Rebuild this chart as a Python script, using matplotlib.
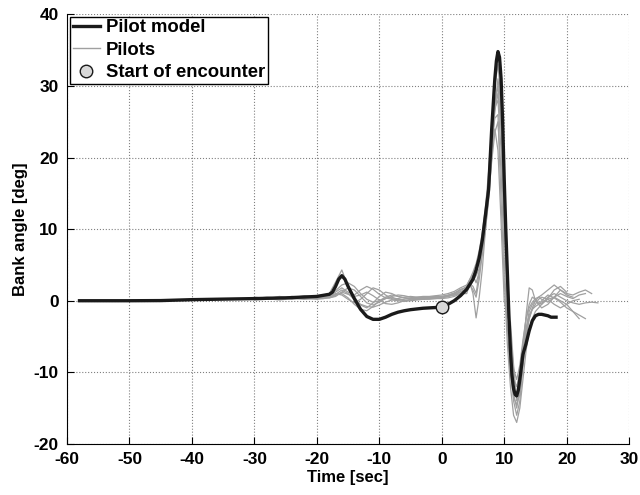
import numpy as np
import matplotlib
matplotlib.use("Agg")
import matplotlib.pyplot as plt
from matplotlib.lines import Line2D

plt.rcParams['font.family'] = ['Liberation Sans', 'DejaVu Sans']
plt.rcParams['font.weight'] = 'bold'
plt.rcParams['axes.unicode_minus'] = False

# ---------------- data ----------------
t_model = [-58, -50, -45, -40, -30, -25, -20, -18, -17.5, -17, -16.5, -16, -15.5, -15,
           -14, -13, -12, -11, -10, -9, -8, -7, -6, -5, -4, -3, -2, -1, 0, 1, 2, 3, 4,
           5, 5.5, 6, 6.5, 7, 7.5, 8, 8.5, 8.75, 9, 9.25, 9.5, 9.75, 10, 10.25, 10.5, 10.75,
           11, 11.25, 11.5, 11.75, 12, 12.25, 12.5, 13, 13.5, 14, 14.5, 15, 15.5, 16,
           16.5, 17, 17.5, 18.3]
v_model = [0, 0, 0.02, 0.15, 0.3, 0.4, 0.6, 0.9, 1.2, 2.0, 3.0, 3.5, 3.0, 2.0,
           0.3, -1.2, -2.2, -2.6, -2.6, -2.3, -1.9, -1.6, -1.4, -1.25, -1.15, -1.05, -1.0, -0.95, -0.85, -0.5, 0.0, 0.7, 1.6,
           3.0, 4.3, 6.0, 8.5, 12, 15.5, 24, 31, 33.5, 34.8, 34, 31, 25, 17, 10, 4, -2,
           -7, -10.5, -12.3, -13.1, -13.3, -12.5, -11, -7.5, -6.0, -4.2, -2.8, -2.1, -1.9, -1.9,
           -2.0, -2.1, -2.3, -2.3]

t_pilot = ([-30, -28, -26, -24, -22, -20]
           + list(range(-19, 4))
           + [4, 4.5, 5, 5.5, 6, 6.5, 7, 7.5, 8, 8.5, 9, 9.5, 10, 10.5, 11, 11.5, 12, 12.5,
              13, 13.5, 14, 14.5, 15, 15.5, 16]
           + list(range(17, 26)))

nan = np.nan
pilot1 = ([0.2, 0.4, 0.3, 0.6, 0.4, 0.6]
          + [0.7, 1.0, 2.6, 4.3, 2.0, 0.5, -0.6, -1.0, -0.3, 0.6, 1.2, 1.0, 0.6, 0.4, 0.3, 0.3, 0.3, 0.4, 0.4, 0.5, 0.6, 0.8, 1.2]
          + [1.5, 2.2, 3.0, 3.8, 5.5, 7.5, 10, 14, 20, 27, 31, 27, 15, 3, -7, -13, -15, -12.5, -8, -4, -1.5, -0.5, 0, -0.3, -0.5]
          + [0.3, 1.5, 2.0, 1.2, nan, nan, nan, nan, nan])
pilot2 = ([0.5, 0.3, 0.6, 0.4, 0.7, 0.5]
          + [0.6, 0.8, 1.2, 1.8, 1.2, 0.8, 1.5, 2.0, 1.6, 0.9, 0.4, 0.2, 0.3, 0.5, 0.6, 0.5, 0.5, 0.5, 0.6, 0.6, 0.7, 0.8, 1.0]
          + [1.0, 2.5, 1.0, -2.4, 0.5, 4.5, 10, 16, 22, 27, 28, 21, 10, 0, -7, -11, -12, -10, -6, -2.5, -0.5, 0.5, 0.2, -0.5, -1.0]
          + [-0.5, 0.5, 1.0, 0.6, 0.3, 0.8, 1.0, nan, nan])
pilot3 = ([nan, 0.3, 0.5, 0.2, 0.5, 0.3]
          + [0.4, 0.6, 0.8, 1.0, 0.4, -0.5, -1.2, -1.4, -0.8, 0.0, 0.5, 0.8, 0.6, 0.4, 0.3, 0.3, 0.4, 0.4, 0.5, 0.5, 0.7, 1.0, 1.5]
          + [2.0, 3.0, 3.6, 2.5, 4.0, 7.5, 11.5, 16.5, 21, 24, 21, 11, 0, -2.2, -3, -9, -14, -13, -8, -2, 1.8, 1.5, 0, -0.5, -0.3]
          + [0.2, 0.5, 0.0, -0.5, -1.5, -2.5, nan, nan, nan])
pilot4 = ([0.1, 0.2, 0.4, 0.3, 0.2, 0.4]
          + [0.5, 0.4, 0.6, 1.2, 1.8, 1.5, 0.6, -0.3, -0.6, -0.2, 0.3, 0.5, 0.2, 0.0, 0.1, 0.2, 0.2, 0.3, 0.3, 0.4, 0.6, 1.0, 1.6]
          + [1.8, 2.4, 2.0, 1.0, 4.0, 8, 12, 17, 22.5, 25.5, 26, 14, 3, -6, -12, -16, -17, -15, -11, -7, -4, -2.5, -1.5, -1.0, -0.5]
          + [0.5, 1.0, 0.5, 0.0, -0.3, -0.5, -0.3, -0.2, -0.3])
pilot5 = ([0.3, 0.5, 0.4, 0.5, 0.6, 0.5]
          + [0.5, 0.7, 1.0, 0.8, 0.2, -0.3, 0.2, 1.0, 1.8, 1.5, 0.8, 0.3, 0.1, 0.2, 0.4, 0.5, 0.6, 0.6, 0.7, 0.8, 1.0, 1.3, 1.8]
          + [2.2, 3.0, 4.0, 5.2, 7.0, 9.5, 13, 18, 24, 30, 33, 28, 16, 3, -8, -14, -16, -14, -9, -5, -2.5, -1.0, 0, 0.5, 0.8]
          + [1.5, 2.2, 1.5, 0.8, 0.5, nan, nan, nan, nan])
pilot6 = ([0.4, 0.2, 0.3, 0.5, 0.3, 0.4]
          + [0.3, 0.5, 0.9, 1.5, 1.0, 0.2, -0.5, -0.8, -0.9, -0.6, -0.2, 0.1, 0.0, -0.1, 0.0, 0.1, 0.2, 0.2, 0.3, 0.3, 0.4, 0.6, 1.0]
          + [1.4, 2.0, 2.8, 3.5, 4.5, 7, 10.5, 15, 21, 26.5, 29, 24, 12, 1, -7, -12, -13, -11, -7, -4, -2, -1.2, -0.8, -0.5, 0.0]
          + [0.8, 0.4, -0.2, -1.0, -1.5, -2.0, -2.5, nan, nan])
pilot7 = ([0.2, 0.3, 0.1, 0.3, 0.5, 0.7]
          + [0.8, 1.0, 1.4, 2.2, 2.5, 2.0, 1.0, 0.2, -0.2, 0.0, 0.3, 0.6, 0.8, 0.7, 0.5, 0.4, 0.4, 0.5, 0.5, 0.6, 0.8, 1.1, 1.5]
          + [1.8, 2.6, 3.4, 4.4, 6.0, 8.5, 12, 16.5, 22, 27.5, 30, 25, 13, 3, -5, -9.5, -11, -9, -5.5, -2.5, -1.0, -0.2, 0.3, 0.5, 0.2]
          + [-0.2, 0.5, 1.5, 1.0, 0.8, 1.2, 1.5, 1.0, nan])
pilot8 = ([nan, nan, 0.3, 0.4, 0.3, 0.2]
          + [0.3, 0.4, 0.7, 1.2, 0.9, 0.6, 0.8, 1.2, 0.7, 0.1, -0.4, -0.5, -0.3, 0.0, 0.2, 0.3, 0.3, 0.4, 0.4, 0.5, 0.6, 0.9, 1.3]
          + [1.6, 2.2, 1.5, 0.5, 3.0, 6.5, 10, 14.5, 19.5, 23.5, 25, 18, 6, -4, -10, -13.5, -14.5, -13, -9, -5, -2.5, -1.2, -0.5, 0.2, 0.5]
          + [0.2, -0.5, -1.0, -0.5, 0.0, 0.2, nan, nan, nan])
pilots = [pilot1, pilot2, pilot3, pilot4, pilot5, pilot6, pilot7, pilot8]

encounter_t = [0]
encounter_v = [-0.85]

x_ticks = [-60, -50, -40, -30, -20, -10, 0, 10, 20, 30]
y_ticks = [-20, -10, 0, 10, 20, 30, 40]
legend_labels = ["Pilot model", "Pilots", "Start of encounter"]

# ---------------- plot ----------------
fig = plt.figure(figsize=(6.4, 4.95), dpi=100)
ax = fig.add_axes([0.1047, 0.1032, 0.8783, 0.8678])

for p in pilots:
    ax.plot(t_pilot, p, color='#a0a0a0', lw=0.9, zorder=2)
ax.plot(t_model, v_model, color='#1a1a1a', lw=2.4, zorder=3, solid_joinstyle='round')
ax.plot(encounter_t, encounter_v, 'o', ms=9, mfc='#d8d8d8', mec='#1a1a1a', mew=1.0, zorder=4)

ax.set_xlim(-60, 30)
ax.set_ylim(-20, 40)
ax.set_xticks(x_ticks)
ax.set_yticks(y_ticks)
ax.tick_params(direction='in', length=5, width=0.8, labelsize=12.5)
ax.tick_params(axis='x', pad=6)
ax.tick_params(axis='y', pad=6)
for lab in ax.get_xticklabels() + ax.get_yticklabels():
    lab.set_fontweight('bold')
ax.grid(True, linestyle=':', color='#808080', lw=0.8)
ax.spines['top'].set_visible(False)
ax.spines['right'].set_visible(False)
ax.set_xlabel("Time [sec]", fontsize=12, fontweight='bold', labelpad=2)
ax.set_ylabel("Bank angle [deg]", fontsize=12, fontweight='bold', labelpad=4)

handles = [Line2D([], [], color='#1a1a1a', lw=2.4),
           Line2D([], [], color='#a0a0a0', lw=1.0),
           Line2D([], [], ls='none', marker='o', ms=9, mfc='#d8d8d8', mec='#1a1a1a')]
leg = ax.legend(handles, legend_labels, loc='upper left', bbox_to_anchor=(0.005, 0.995),
                prop={'weight': 'bold', 'size': 13.3}, frameon=True, fancybox=False,
                edgecolor='black', framealpha=1, borderpad=0.15, labelspacing=0.3,
                handlelength=1.5, handletextpad=0.3, borderaxespad=0)
leg.get_frame().set_linewidth(1.0)

fig.savefig("out.png", dpi=100)
